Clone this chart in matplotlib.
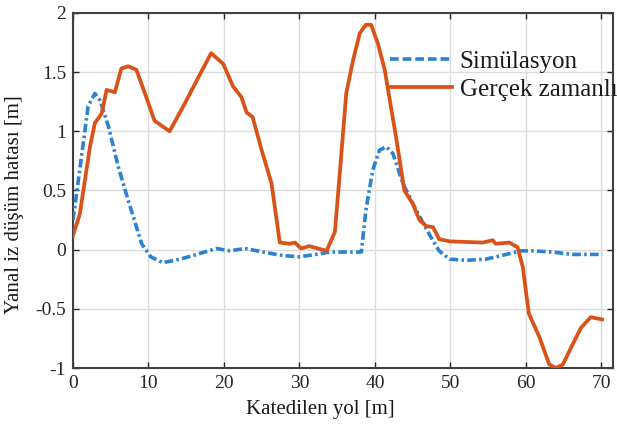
import matplotlib
matplotlib.use("Agg")
import matplotlib.pyplot as plt
from matplotlib.lines import Line2D

# Data
gercek_x = [0, 0.9, 2.25, 2.9, 3.8, 4.45, 5.55, 6.4, 7.3, 8.4, 9.7, 10.8, 12.8, 14.6, 16.4,
            18.3, 19.9, 21.2, 22.3, 23.0, 23.8, 25.0, 26.3, 27.4, 28.7, 29.4, 30.2, 31.3,
            33.6, 34.7, 35.3, 36.2, 37.1, 38.0, 38.8, 39.5, 40.4, 41.3, 41.9, 42.8, 43.9,
            45.0, 45.9, 46.8, 47.7, 48.5, 49.9, 54.3, 55.6, 56.0, 57.8, 58.9, 59.6, 60.0,
            60.4, 61.8, 63.1, 64.0, 64.9, 66.2, 67.3, 68.6, 70.1]
gercek_y = [0.12, 0.30, 0.87, 1.07, 1.15, 1.35, 1.33, 1.53, 1.55, 1.52, 1.29, 1.09, 1.0,
            1.21, 1.43, 1.66, 1.57, 1.38, 1.29, 1.16, 1.12, 0.84, 0.56, 0.06, 0.05, 0.06,
            0.01, 0.03, -0.01, 0.15, 0.61, 1.32, 1.60, 1.83, 1.90, 1.90, 1.74, 1.52, 1.29,
            0.95, 0.50, 0.39, 0.25, 0.20, 0.19, 0.09, 0.07, 0.06, 0.08, 0.05, 0.06, 0.02,
            -0.15, -0.35, -0.54, -0.74, -0.97, -1.0, -0.97, -0.80, -0.66, -0.57, -0.59]

sim_x = [0, 0.7, 1.4, 2.0, 2.9, 3.6, 4.7, 6.0, 7.3, 9.1, 10.3, 11.9, 14.2, 16.4, 19.0,
         20.8, 22.8, 25.2, 27.8, 30.0, 32.2, 34.0, 36.2, 38.2, 38.8, 39.7, 40.6, 41.5,
         42.4, 43.7, 45.5, 47.2, 48.5, 49.9, 52.1, 54.7, 57.4, 59.3, 60.9, 63.5, 66.2, 70.1]
sim_y = [0.25, 0.58, 0.92, 1.21, 1.32, 1.26, 1.04, 0.70, 0.42, 0.05, -0.06, -0.11, -0.08,
         -0.04, 0.01, -0.01, 0.01, -0.02, -0.05, -0.06, -0.04, -0.02, -0.02, -0.02, 0.33,
         0.67, 0.84, 0.87, 0.81, 0.56, 0.33, 0.13, -0.01, -0.08, -0.09, -0.08, -0.04,
         -0.01, -0.01, -0.02, -0.04, -0.04]

x_ticks = [0, 10, 20, 30, 40, 50, 60, 70]
y_ticks = [-1, -0.5, 0, 0.5, 1, 1.5, 2]
y_tick_labels = ["-1", "-0.5", "0", "0.5", "1", "1.5", "2"]
labels = ["Simülasyon", "Gerçek zamanlı"]

plt.rcParams['font.family'] = ['Liberation Serif', 'DejaVu Serif']

BLUE = "#2b82d0"
ORANGE = "#D95319"

fig = plt.figure(figsize=(6.17, 4.32), dpi=100)
ax = fig.add_axes([0.1183, 0.1481, 0.993 - 0.1183, 0.970 - 0.1481])

ax.plot(sim_x, sim_y, color=BLUE, lw=2.6, linestyle=(0, (2.4, 0.9, 0.7, 0.9)),
        label=labels[0], zorder=3)
ax.plot(gercek_x, gercek_y, color=ORANGE, lw=2.7, label=labels[1], zorder=4)

ax.set_xlim(0, 71.5)
ax.set_ylim(-1, 2)
ax.set_xticks(x_ticks)
ax.set_yticks(y_ticks)
ax.set_yticklabels(y_tick_labels)
ax.grid(True, color="#dcdcdc", lw=1.0)
ax.set_axisbelow(True)
ax.tick_params(direction="in", top=True, right=True, length=4, width=1,
               labelsize=14, colors="#262626", pad=5)
for s in ax.spines.values():
    s.set_color("#404040")
    s.set_linewidth(1.5)

ax.set_xlabel("Katedilen yol [m]", fontsize=15, color="#1a1a1a")
ax.set_ylabel("Yanal iz düşüm hatası [m]", fontsize=15, color="#1a1a1a")
ax.xaxis.set_label_coords(0.458, -0.09)
ax.yaxis.set_label_coords(-0.09, 0.46)

h1 = Line2D([], [], color=BLUE, lw=2.6, linestyle=(0, (2.4, 1.1)))
h2 = Line2D([], [], color=ORANGE, lw=2.7)
leg = ax.legend([h1, h2], labels, loc="upper left", bbox_to_anchor=(0.587, 0.895),
                frameon=False, fontsize=18, handlelength=2.5, handletextpad=0.3,
                labelspacing=0.22, borderpad=0, borderaxespad=0)
for t in leg.get_texts():
    t.set_color("#1a1a1a")

fig.savefig("out.png", dpi=100)
